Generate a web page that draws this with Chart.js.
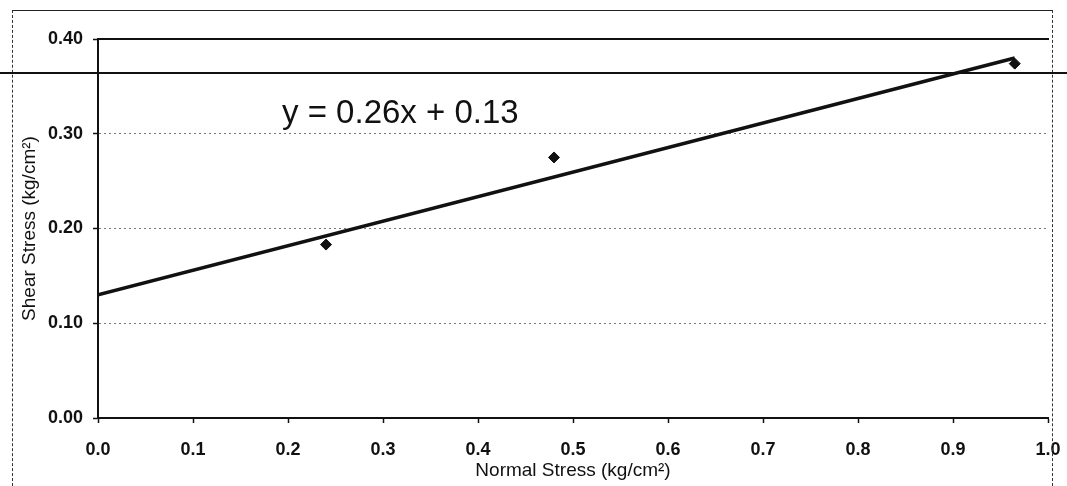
<!DOCTYPE html>
<html lang="en">
<head>
<meta charset="UTF-8">
<title>Shear Stress vs Normal Stress</title>
<script src="https://cdn.jsdelivr.net/npm/chart.js"></script>
<style>
    html, body { margin: 0; padding: 0; background: #fff; }
    #wrap { position: relative; width: 1067px; height: 486px; overflow: hidden; }
    #frame {
        position: absolute; left: 12px; top: 10px; width: 1039px; height: 490px;
        border-top: 1px solid #222; border-left: 1px dashed #333; border-right: 1px dashed #333;
    }
    #scanline { position: absolute; left: 0; top: 72px; width: 1067px; height: 2px; background: #111; }
    #equation {
        position: absolute; left: 282px; top: 95px;
        font: 33px "Liberation Sans", Arial, sans-serif; line-height: 33px; color: #111;
    }
    canvas { position: absolute; left: 0; top: 0; }
</style>
</head>
<body>
<div id="wrap">
    <canvas id="shearChart" width="1067" height="486"></canvas>
    <div id="frame"></div>
    <div id="scanline"></div>
    <div id="equation">y = 0.26x + 0.13</div>
</div>

<script>
// test points
var normalStress = [0.24, 0.48, 0.965];
var shearStress = [0.183, 0.275, 0.374];

// linear trendline ends (y = 0.26x + 0.13)
var trendX = [0, 0.965];
var trendY = [0.13, 0.38];

var xTicks = [0, 0.1, 0.2, 0.3, 0.4, 0.5, 0.6, 0.7, 0.8, 0.9, 1.0];
var yTicks = [0, 0.1, 0.2, 0.3, 0.4];

var fontFamily = '"Liberation Sans", Arial, sans-serif';

var pointData = normalStress.map((x, i) => ({ x: x, y: shearStress[i] }));
var trendData = trendX.map((x, i) => ({ x: x, y: trendY[i] }));

var ctx = document.getElementById('shearChart').getContext('2d');
var shearChart = new Chart(ctx, {
    type: 'scatter',
    data: {
        datasets: [{
            data: pointData,
            pointStyle: 'rectRot',
            pointRadius: 5.5,
            backgroundColor: '#111',
            borderColor: '#111',
            order: 0
        }, {
            data: trendData,
            showLine: true,
            borderColor: '#111',
            borderWidth: 3.5,
            pointRadius: 0,
            order: 1
        }]
    },
    options: {
        responsive: false,
        animation: false,
        layout: { padding: { left: 0, top: 39, right: 19, bottom: 0 } },
        plugins: { legend: { display: false }, tooltip: { enabled: false } },
        scales: {
            x: {
                type: 'linear',
                min: 0,
                max: 1,
                afterFit: function (scale) {
                    scale.height = 68;
                    scale.paddingLeft = 0;
                    scale.paddingRight = 0;
                },
                afterBuildTicks: function (scale) { scale.ticks = xTicks.map(v => ({ value: v })); },
                ticks: {
                    padding: 16,
                    color: '#111',
                    font: { family: fontFamily, size: 18, weight: 'bold' },
                    callback: v => v.toFixed(1)
                },
                grid: { drawOnChartArea: false, tickLength: 5, tickColor: '#111', tickWidth: 1.5 },
                border: { color: '#111', width: 2 },
                title: {
                    display: true,
                    text: 'Normal Stress (kg/cm²)',
                    color: '#111',
                    padding: { top: 0, bottom: 4 },
                    font: { family: fontFamily, size: 19 }
                }
            },
            x2: {
                type: 'linear',
                position: 'top',
                min: 0,
                max: 1,
                afterFit: function (scale) {
                    scale.height = 0;
                    scale.paddingLeft = 0;
                    scale.paddingRight = 0;
                },
                ticks: { display: false },
                grid: { display: false },
                border: { color: '#111', width: 2 }
            },
            y: {
                min: 0,
                max: 0.4,
                afterFit: function (scale) { scale.width = 98; },
                afterBuildTicks: function (scale) { scale.ticks = yTicks.map(v => ({ value: v })); },
                ticks: {
                    padding: 10,
                    color: '#111',
                    font: { family: fontFamily, size: 18, weight: 'bold' },
                    callback: v => v.toFixed(2)
                },
                grid: {
                    color: c => (c.tick && (c.tick.value === 0 || c.tick.value === 0.4)) ? 'rgba(0,0,0,0)' : '#777',
                    lineWidth: 1,
                    tickLength: 5,
                    tickColor: '#111',
                    tickWidth: 1.5
                },
                border: { color: '#111', width: 2, dash: [2, 3] },
                title: {
                    display: true,
                    text: 'Shear Stress (kg/cm²)',
                    color: '#111',
                    padding: { top: 18, bottom: 0 },
                    font: { family: fontFamily, size: 19 }
                }
            }
        }
    }
});
</script>
</body>
</html>
